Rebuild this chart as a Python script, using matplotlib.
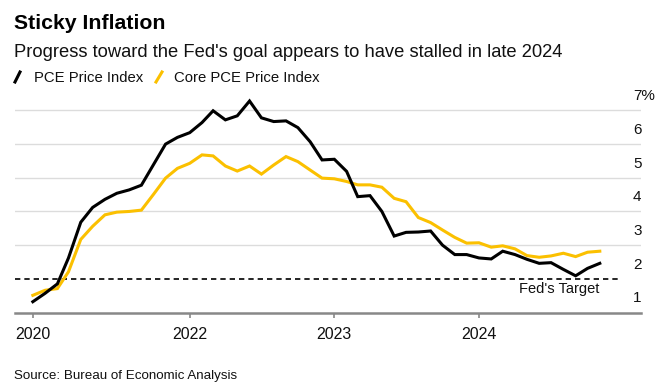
import matplotlib
matplotlib.use("Agg")
import matplotlib.pyplot as plt
import matplotlib.transforms as mtransforms
from matplotlib.lines import Line2D
import pandas as pd
import numpy as np

plt.rcParams['font.family'] = ['Liberation Sans', 'DejaVu Sans']

# Data: monthly, Dec 2020 - Nov 2024 (YoY %)
dates = pd.date_range('2020-12-01', periods=48, freq='MS')
pce = [1.32, 1.57, 1.85, 2.62, 3.68, 4.12, 4.36, 4.54, 4.64, 4.78, 5.38, 6.00,
       6.20, 6.34, 6.64, 6.99, 6.72, 6.84, 7.28, 6.78, 6.67, 6.69, 6.49, 6.07,
       5.53, 5.55, 5.19, 4.44, 4.47, 4.00, 3.27, 3.38, 3.39, 3.42, 3.00, 2.72,
       2.72, 2.62, 2.59, 2.82, 2.72, 2.58, 2.46, 2.48, 2.28, 2.09, 2.31, 2.46]
core = [1.51, 1.66, 1.71, 2.21, 3.17, 3.56, 3.90, 3.98, 4.00, 4.04, 4.50, 4.99,
        5.28, 5.43, 5.68, 5.65, 5.35, 5.20, 5.35, 5.11, 5.38, 5.63, 5.48, 5.23,
        4.99, 4.97, 4.89, 4.79, 4.79, 4.72, 4.39, 4.29, 3.82, 3.67, 3.45, 3.23,
        3.06, 3.07, 2.94, 2.98, 2.89, 2.69, 2.64, 2.68, 2.76, 2.66, 2.79, 2.82]
series_names = ['PCE Price Index', 'Core PCE Price Index']
y_ticks = [1, 2, 3, 4, 5, 6, 7]
y_tick_labels = ['1', '2', '3', '4', '5', '6', '7%']
x_tick_dates = pd.to_datetime(['2020-12-01', '2022-01-01', '2023-01-01', '2024-01-01'])
x_tick_labels = ['2020', '2022', '2023', '2024']
target = 2.0

BLACK = '#000000'
YELLOW = '#FBC000'

W, H = 668, 392
fig = plt.figure(figsize=(W / 100, H / 100), dpi=100)
left_px, right_px = 15, 641
bottom_px, top_px = 312.5, 93.6
ax = fig.add_axes([left_px / W, 1 - bottom_px / H,
                   (right_px - left_px) / W, (bottom_px - top_px) / H])

ax.set_xlim(pd.Timestamp('2020-10-17'), pd.Timestamp('2025-02-13'))
ax.set_ylim(1, 7.5)

# gridlines
for v in y_ticks[1:]:
    if v == target:
        continue
    ax.axhline(v, color='#DCDCDC', lw=1.0, zorder=1)

ax.axhline(target, xmin=0, xmax=(618 - left_px) / (right_px - left_px),
           color='black', lw=1.2, ls=(0, (3.2, 2.4)), zorder=2)

ax.plot(dates, core, color=YELLOW, lw=2.2, zorder=3, solid_joinstyle='miter')
ax.plot(dates, pce, color=BLACK, lw=2.2, zorder=4, solid_joinstyle='miter')

ax.text(pd.Timestamp('2024-11-01'), 1.70, "Fed's Target", ha='right', va='center',
        fontsize=10.5, color='#111111')

# y labels sitting above gridlines
trans = mtransforms.offset_copy(ax.get_yaxis_transform(), fig=fig, x=0, y=7, units='dots')
for v, lab in zip(y_ticks, y_tick_labels):
    ax.text((633 - left_px) / (right_px - left_px), v, lab, transform=trans,
            ha='left', va='bottom', fontsize=11, color='#111111', clip_on=False)

for s in ['left', 'right', 'top']:
    ax.spines[s].set_visible(False)
ax.spines['bottom'].set_color('#888888')
ax.spines['bottom'].set_linewidth(1.8)
ax.set_yticks([])
ax.set_xticks(x_tick_dates)
ax.set_xticklabels(x_tick_labels)
ax.tick_params(axis='x', direction='out', length=3.6, width=1.2, color='#888888',
               pad=6.5, labelsize=11.5, labelcolor='#111111')

# Titles
fig.text(14 / W, 1 - 29 / H, 'Sticky Inflation', fontsize=15.3, fontweight='bold',
         ha='left', va='baseline', color='black')
fig.text(14 / W, 1 - 57 / H, "Progress toward the Fed's goal appears to have stalled in late 2024",
         fontsize=13.2, ha='left', va='baseline', color='#111111')

# Legend
leg_y = 1 - 82.5 / H
fig.add_artist(Line2D([15 / W, 20 / W], [1 - 82 / H, 1 - 72 / H], color=BLACK, lw=2.2,
                      transform=fig.transFigure))
fig.text(34 / W, leg_y, series_names[0], fontsize=10.7, ha='left', va='baseline', color='#111111')
fig.add_artist(Line2D([156 / W, 162 / W], [1 - 82 / H, 1 - 72 / H], color=YELLOW, lw=2.2,
                      transform=fig.transFigure))
fig.text(174 / W, leg_y, series_names[1], fontsize=10.7, ha='left', va='baseline', color='#111111')

fig.text(14 / W, 1 - 379 / H, 'Source: Bureau of Economic Analysis', fontsize=9.6,
         ha='left', va='baseline', color='#111111')

fig.savefig('out.png', dpi=100)
